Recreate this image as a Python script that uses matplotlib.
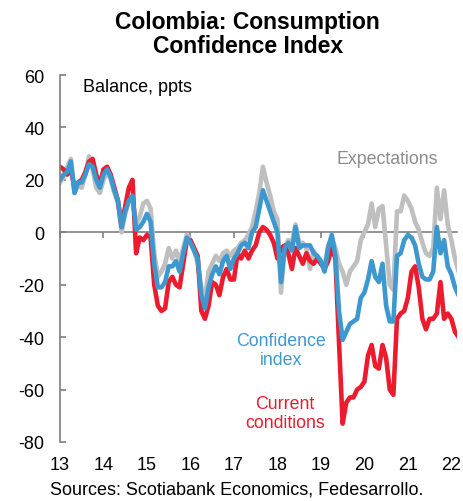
import numpy as np
import matplotlib
matplotlib.use("Agg")
import matplotlib.pyplot as plt
import matplotlib.transforms as mtransforms

plt.rcParams["font.family"] = ["Liberation Sans", "DejaVu Sans"]
plt.rcParams["axes.unicode_minus"] = False

# monthly points, plotted on the chart's own year axis (13 ... 22)
confidence = [20, 22, 23, 27, 15, 19, 19, 22, 26, 25, 20, 17,
              22, 24, 21, 16, 12, 2, 8, 12, 14, 1, 2, 4,
              7, 4, -12, -21, -21, -19, -13, -13, -11, -15, -8, -2,
              -4, -7, -10, -24, -29, -21, -16, -13, -16, -11, -9, -14,
              -10, -8, -5, -4, -6, 0, 2, 9, 16, 12, 8, 4,
              0, -19, -6, -4, -7, 2, -6, -5, -5, -5, -8, -9,
              -11, -15, -6, -1, -9, -30, -41, -38, -35, -34, -33, -25,
              -23, -18, -11, -17, -19, -12, -28, -34, -34, -9, -8, -3,
              -1, -2, -5, -12, -17, -18, -18, -15, 2, -8, -3, -13,
              -16, -21, -24]
current = [25, 24, 22, 24, 17, 19, 20, 23, 27, 28, 22, 18,
           24, 25, 22, 17, 12, 2, 10, 17, 20, -8, -2, -3,
           -1, -2, -20, -28, -30, -29, -19, -17, -20, -21, -12, -3,
           -3, -6, -9, -30, -33, -28, -19, -20, -24, -17, -14, -18,
           -18, -8, -10, -7, -10, -7, -5, 0, 2, 1, -1, -4,
           -10, -6, -5, -8, -14, -6, -9, -12, -8, -11, -12, -10,
           -12, -14, -11, -6, -10, -42, -73, -65, -63, -63, -60, -59,
           -57, -47, -43, -51, -52, -43, -48, -60, -62, -33, -31, -30,
           -25, -15, -13, -21, -33, -37, -33, -33, -31, -19, -33, -31,
           -33, -38, -40]
expectations = [19, 21, 25, 28, 15, 18, 17, 22, 29, 24, 17, 15,
                20, 23, 20, 15, 11, 0, 7, 12, 13, 3, 6, 11,
                12, 9, -8, -17, -15, -12, -6, -10, -7, -11, -6, -1,
                -3, -7, -12, -21, -25, -15, -12, -9, -11, -8, -7, -9,
                -7, -6, -4, -3, -1, 2, 8, 15, 25, 19, 14, 8,
                5, -23, -6, -3, -4, 3, -4, -4, -6, -14, -7, -10,
                -12, -13, -5, -2, -6, -12, -15, -20, -15, -13, -11, -3,
                0, 3, 11, 2, 9, 10, -5, -20, -22, 8, 8, 14,
                12, 9, 4, 1, -4, -8, -9, -6, 17, 5, 16, 3,
                -3, -10, -15]
months = 13 + np.arange(len(confidence)) / 12.0

year_ticks = list(range(13, 23))
year_labels = [str(y) for y in year_ticks]
y_ticks = [-80, -60, -40, -20, 0, 20, 40, 60]

GRAY = "#bfbfbf"
RED = "#ec1c2e"
BLUE = "#3d98d0"
AXIS = "#7f7f7f"

fig = plt.figure(figsize=(4.64, 5.02), dpi=100)
ax = fig.add_axes([60 / 464, 59 / 502, 397 / 464, 367 / 502])

ax.plot(months, expectations, color=GRAY, lw=3.3, solid_joinstyle="round")
ax.plot(months, current, color=RED, lw=3.3, solid_joinstyle="round")
ax.plot(months, confidence, color=BLUE, lw=3.3, solid_joinstyle="round")

ax.set_xlim(13, 22.13)
ax.set_ylim(-80, 60)

for s in ["top", "right"]:
    ax.spines[s].set_visible(False)
ax.spines["left"].set_color(AXIS)
ax.spines["left"].set_linewidth(1.2)
ax.spines["bottom"].set_position(("data", 0))
ax.spines["bottom"].set_color(AXIS)
ax.spines["bottom"].set_linewidth(1.2)
ax.spines["bottom"].set_zorder(0.5)

ax.set_yticks(y_ticks)
ax.set_yticklabels([str(v) for v in y_ticks])
ax.tick_params(axis="y", direction="in", length=4, width=1.2, color=AXIS,
               labelsize=13, pad=11)
ax.set_xticks(year_ticks)
ax.tick_params(axis="x", direction="out", length=4, width=1.2, color=AXIS,
               labelbottom=False)

# year labels sit under the plot, not on the zero line
trans = mtransforms.blended_transform_factory(ax.transData, ax.transAxes)
for xv, lab in zip(year_ticks, year_labels):
    ax.text(xv, -0.06, lab, transform=trans, ha="center", va="center",
            fontsize=13)

ax.text(13.53, 55.7, "Balance, ppts", fontsize=13, va="center", ha="left")
ax.text(20.52, 28.2, "Expectations", fontsize=12.8, color="#8c8c8c",
        ha="center", va="center")
ax.text(18.08, -44.9, "Confidence\nindex", fontsize=12.8, color="#3d98d0",
        ha="center", va="center", linespacing=1.15)
ax.text(18.17, -69, "Current\nconditions", fontsize=12.8, color=RED,
        ha="center", va="center", linespacing=1.15)

fig.text(0.534, 0.931, "Colombia: Consumption\nConfidence Index",
         fontsize=16.5, fontweight="bold", ha="center", va="center",
         linespacing=1.05)
fig.text(0.511, 0.024, "Sources: Scotiabank Economics, Fedesarrollo.",
         fontsize=13, ha="center", va="center")

fig.savefig("out.png", dpi=100)
